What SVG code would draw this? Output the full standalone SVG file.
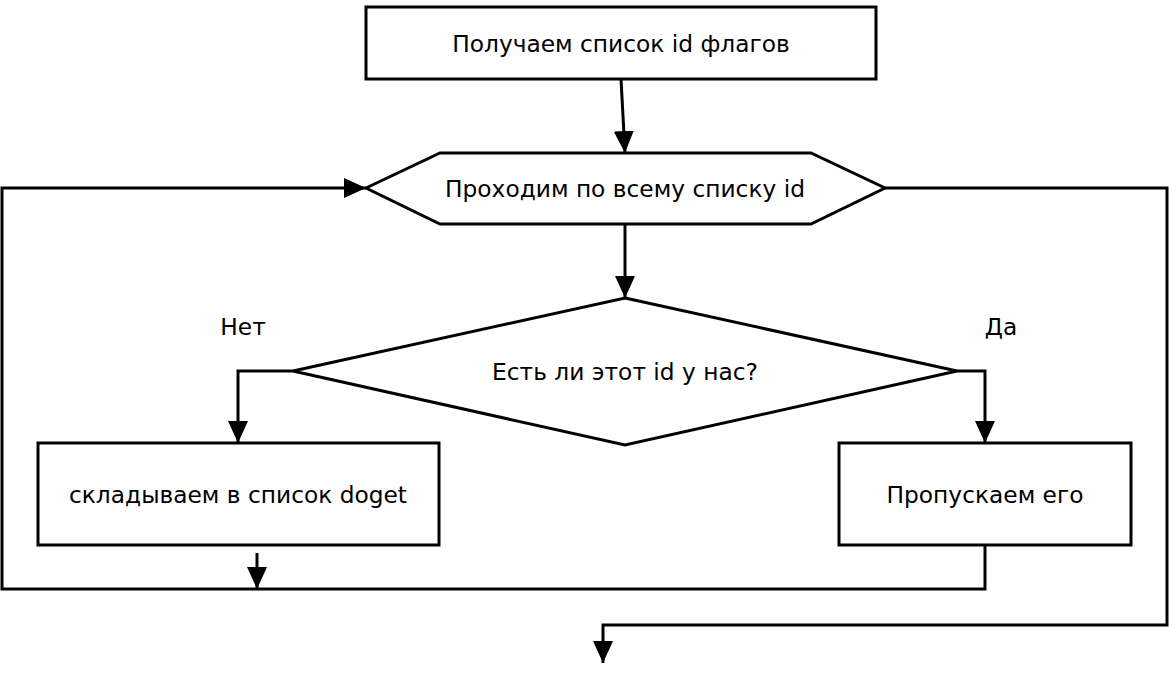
<svg xmlns="http://www.w3.org/2000/svg" width="1169" height="673" viewBox="0 0 1169 673">
<style>
.s{fill:#fff;stroke:#000;stroke-width:3}
.c{fill:none;stroke:#000;stroke-width:3}
text{font-family:"DejaVu Sans",sans-serif;font-size:23.3px;fill:#000;text-anchor:middle;dominant-baseline:central}
</style>
<defs>
<marker id="a" viewBox="0 0 22 20" refX="22" refY="10" markerWidth="22" markerHeight="20" markerUnits="userSpaceOnUse" orient="auto">
<path d="M0,0L22,10L0,20Z" fill="#000"/>
</marker>
</defs>
<rect width="1169" height="673" fill="#fff"/>
<g id="connectors">
<path class="c" d="M621,79L625,153" marker-end="url(#a)"/>
<path class="c" d="M625,224L625,298" marker-end="url(#a)"/>
<path class="c" d="M293,371H238V443" marker-end="url(#a)"/>
<path class="c" d="M957,371H985V443" marker-end="url(#a)"/>
<path class="c" d="M985,545V589H2V188H366" marker-end="url(#a)"/>
<path class="c" d="M257,553V589" marker-end="url(#a)"/>
<path class="c" d="M885,188H1167V625H603V663" marker-end="url(#a)"/>
</g>
<g id="n1"><rect class="s" x="366" y="7" width="510" height="72"/><text x="621" y="43">Получаем список id флагов</text></g>
<g id="n2"><path class="s" d="M366,188L440,153H811L885,188L811,224H440Z"/><text x="625" y="188">Проходим по всему списку id</text></g>
<g id="n3"><path class="s" d="M625,298L957,371L625,445L293,371Z"/><text x="625" y="371">Есть ли этот id у нас?</text></g>
<g id="n4"><rect class="s" x="38" y="443" width="401" height="102"/><text x="238" y="494">складываем в список doget</text></g>
<g id="n5"><rect class="s" x="839" y="443" width="292" height="102"/><text x="985" y="494">Пропускаем его</text></g>
<g id="labels"><text x="243" y="326">Нет</text><text x="1001" y="326">Да</text></g>
</svg>
